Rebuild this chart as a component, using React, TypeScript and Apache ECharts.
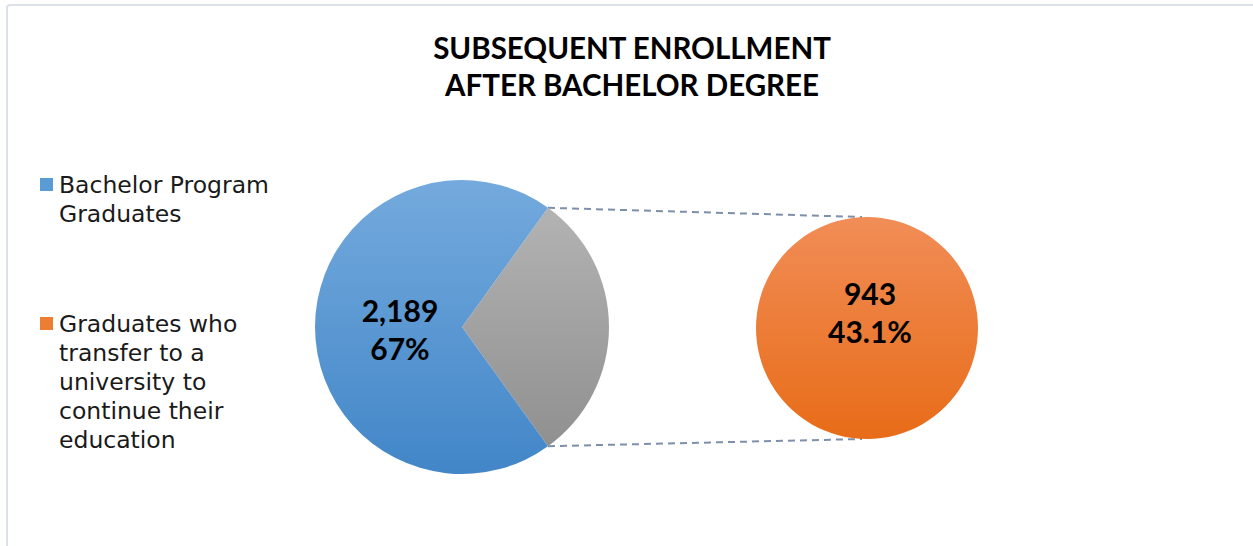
import React, { useEffect, useRef } from "react";
import * as echarts from "echarts";

// ---- data ----
const titleLines = ["SUBSEQUENT ENROLLMENT", "AFTER BACHELOR DEGREE"];
const categories = [
  "Bachelor Program Graduates",
  "Graduates who transfer to a university to continue their education",
];
const legendLines = [
  ["Bachelor Program", "Graduates"],
  ["Graduates who", "transfer to a", "university to", "continue their", "education"],
];
const mainValues = [2189, 943]; // bachelor graduates, transfer portion (gray)
const mainPercentLabel = "67%";
const secondaryValue = 943;
const secondaryPercentLabel = "43.1%";

// ---- layout ----
const W = 1253;
const H = 546;
const C1 = [462, 327];
const R1 = 147;
const C2 = [867, 328];
const R2 = 111;

const fmt = (v: number) => v.toLocaleString("en-US");

const grad = (top: string, bottom: string) =>
  new echarts.graphic.LinearGradient(0, 0, 0, 1, [
    { offset: 0, color: top },
    { offset: 1, color: bottom },
  ]);

export default function App() {
  const ref = useRef<HTMLDivElement>(null);

  useEffect(() => {
    if (!ref.current) return;
    const chart = echarts.init(ref.current, null, { renderer: "svg" });

    const total = mainValues[0] + mainValues[1];
    const halfAngleDeg = (mainValues[1] / total) * 180;
    const a = (halfAngleDeg * Math.PI) / 180;
    const p1Top = [C1[0] + R1 * Math.cos(a), C1[1] - R1 * Math.sin(a)];
    const p1Bot = [C1[0] + R1 * Math.cos(a), C1[1] + R1 * Math.sin(a)];
    const p2Top = [C2[0] - 5, C2[1] - R2];
    const p2Bot = [C2[0] - 5, C2[1] + R2];

    const legendFont = '"DejaVu Sans", sans-serif';
    const legendColors = ["#5B9BD5", "#ED7D31"];
    const legendLH = 29;
    const legendTops = [170.5, 309.5];

    const graphic: any[] = [
      {
        type: "rect",
        silent: true,
        shape: { x: 7, y: 5, width: 1260, height: 600, r: 3 },
        style: { fill: "none", stroke: "#DCE0E7", lineWidth: 2 },
        z: 0,
      },
      {
        type: "line",
        silent: true,
        shape: { x1: p1Top[0], y1: p1Top[1], x2: p2Top[0], y2: p2Top[1] },
        style: { stroke: "#7D90AA", lineWidth: 2, lineDash: [7, 5] },
        z: 1,
      },
      {
        type: "line",
        silent: true,
        shape: { x1: p1Bot[0], y1: p1Bot[1], x2: p2Bot[0], y2: p2Bot[1] },
        style: { stroke: "#7D90AA", lineWidth: 2, lineDash: [7, 5] },
        z: 1,
      },
    ];

    legendLines.forEach((lines, i) => {
      graphic.push({
        type: "rect",
        silent: true,
        shape: { x: 40, y: legendTops[i] + legendLH / 2 - 7, width: 13, height: 13 },
        style: { fill: legendColors[i] },
        z: 5,
      });
      graphic.push({
        type: "text",
        silent: true,
        x: 59,
        y: legendTops[i],
        style: {
          text: lines.join("\n"),
          fontFamily: legendFont,
          fontSize: 23.5,
          lineHeight: legendLH,
          fill: "#1a1a1a",
          verticalAlign: "top",
          align: "left",
        },
        z: 5,
      });
    });

    const labelFont = 'Lato, "Noto Sans", sans-serif';
    graphic.push({
      type: "text",
      silent: true,
      x: C1[0] - 62,
      y: C1[1] + 2,
      style: {
        text: `${fmt(mainValues[0])}\n${mainPercentLabel}`,
        fontFamily: labelFont,
        fontWeight: "bold",
        fontSize: 30,
        lineHeight: 38,
        fill: "#000",
        align: "center",
        verticalAlign: "middle",
      },
      z: 10,
    });
    graphic.push({
      type: "text",
      silent: true,
      x: C2[0] + 3,
      y: C2[1] - 16,
      style: {
        text: `${fmt(secondaryValue)}\n${secondaryPercentLabel}`,
        fontFamily: labelFont,
        fontWeight: "bold",
        fontSize: 30,
        lineHeight: 38,
        fill: "#000",
        align: "center",
        verticalAlign: "middle",
      },
      z: 10,
    });

    chart.setOption({
      animation: false,
      backgroundColor: "#ffffff",
      title: {
        text: titleLines.join("\n"),
        left: 627,
        top: 23.5,
        textAlign: "center",
        textStyle: {
          fontFamily: labelFont,
          fontWeight: "bold",
          fontSize: 29.5,
          lineHeight: 37,
          color: "#000",
        },
      },
      series: [
        {
          type: "pie",
          silent: true,
          center: C1,
          radius: R1,
          startAngle: halfAngleDeg,
          clockwise: true,
          label: { show: false },
          labelLine: { show: false },
          itemStyle: { borderWidth: 0 },
          data: [
            {
              name: categories[1] + " (share)",
              value: mainValues[1],
              itemStyle: { color: grad("#B3B3B3", "#909090") },
            },
            {
              name: categories[0],
              value: mainValues[0],
              itemStyle: { color: grad("#74AADD", "#4286C8") },
            },
          ],
        },
        {
          type: "pie",
          silent: true,
          center: C2,
          radius: R2,
          label: { show: false },
          labelLine: { show: false },
          itemStyle: { borderWidth: 0 },
          data: [
            {
              name: categories[1],
              value: secondaryValue,
              itemStyle: { color: grad("#F18D57", "#E86C18") },
            },
          ],
        },
      ],
      graphic,
    });

    return () => chart.dispose();
  }, []);

  return (
    <div
      ref={ref}
      style={{ position: "absolute", left: 0, top: 0, width: W, height: H }}
    />
  );
}
